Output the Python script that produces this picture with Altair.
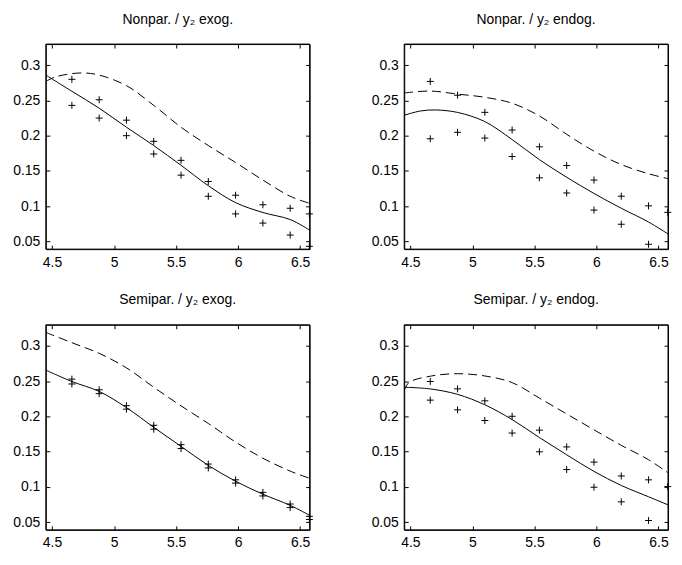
import altair as alt
import pandas as pd

# ---------------- data ----------------
TITLES = ["Nonpar. / y₂ exog.", "Nonpar. / y₂ endog.",
          "Semipar. / y₂ exog.", "Semipar. / y₂ endog."]
X_TICKS = [4.5, 5, 5.5, 6, 6.5]
Y_TICKS = [0.05, 0.1, 0.15, 0.2, 0.25, 0.3]
X_DOMAIN = [4.45, 6.577]
Y_DOMAIN = [0.039, 0.33]

PX = [4.66, 4.88, 5.10, 5.32, 5.54, 5.76, 5.98, 6.20, 6.42, 6.575]

# panel 1: Nonpar. / y2 exog.
p1_upper = [0.280, 0.251, 0.222, 0.192, 0.165, 0.135, 0.1155, 0.102, 0.097, 0.089]
p1_lower = [0.243, 0.225, 0.200, 0.174, 0.144, 0.114, 0.089, 0.076, 0.059, 0.043]
p1_solid_x = [4.45, 4.66, 4.88, 5.10, 5.32, 5.54, 5.76, 5.98, 6.20, 6.42, 6.577]
p1_solid_y = [0.286, 0.263, 0.239, 0.212, 0.186, 0.158, 0.129, 0.105, 0.091, 0.081, 0.066]
p1_dash_x = [4.45, 4.52, 4.62, 4.75, 4.88, 5.10, 5.32, 5.54, 5.76, 5.98, 6.20, 6.42, 6.577]
p1_dash_y = [0.277, 0.283, 0.287, 0.289, 0.286, 0.271, 0.243, 0.212, 0.186, 0.162, 0.137, 0.114, 0.104]

# panel 2: Nonpar. / y2 endog.
p2_upper = [0.277, 0.2574, 0.2331, 0.208, 0.1842, 0.1576, 0.137, 0.1141, 0.1004, 0.0912]
p2_lower = [0.1956, 0.2048, 0.1966, 0.1704, 0.1402, 0.1187, 0.0944, 0.0743, 0.0459, None]
p2_solid_x = [4.45, 4.58, 4.70, 4.88, 5.10, 5.32, 5.54, 5.76, 5.98, 6.20, 6.42, 6.577]
p2_solid_y = [0.229, 0.235, 0.2365, 0.2330, 0.2200, 0.1945, 0.1660, 0.1410, 0.1180, 0.0970, 0.0775, 0.0605]
p2_dash_x = [4.45, 4.66, 4.88, 5.10, 5.32, 5.54, 5.76, 5.98, 6.20, 6.42, 6.577]
p2_dash_y = [0.2606, 0.2633, 0.2590, 0.2545, 0.246, 0.228, 0.202, 0.178, 0.159, 0.146, 0.139]

# panel 3: Semipar. / y2 exog.
p3_upper = [0.2529, 0.2378, 0.2153, 0.1874, 0.1599, 0.1324, 0.110, 0.0922, 0.0757, 0.0582]
p3_lower = [0.246, 0.2323, 0.2103, 0.1819, 0.1544, 0.1269, 0.1054, 0.0871, 0.0706, 0.0537]
p3_solid_x = [4.45, 4.66, 4.88, 5.10, 5.32, 5.54, 5.76, 5.98, 6.20, 6.42, 6.577]
p3_solid_y = [0.2657, 0.2495, 0.2355, 0.2125, 0.1845, 0.1575, 0.1305, 0.1080, 0.0896, 0.0738, 0.0596]
p3_dash_x = [4.45, 4.66, 4.88, 5.10, 5.32, 5.54, 5.76, 5.98, 6.20, 6.42, 6.577]
p3_dash_y = [0.3192, 0.3046, 0.2895, 0.2689, 0.2414, 0.2150, 0.1900, 0.1636, 0.1407, 0.1224, 0.1122]

# panel 4: Semipar. / y2 endog.
p4_upper = [0.2496, 0.2391, 0.2221, 0.2002, 0.1805, 0.1567, 0.1352, 0.1155, 0.110, 0.1004]
p4_lower = [0.2231, 0.2093, 0.1942, 0.1764, 0.1498, 0.1246, 0.0995, 0.0788, 0.0523, None]
p4_solid_x = [4.45, 4.66, 4.88, 5.10, 5.32, 5.54, 5.76, 5.98, 6.20, 6.42, 6.577]
p4_solid_y = [0.2414, 0.2390, 0.2313, 0.2165, 0.1955, 0.1700, 0.1455, 0.1220, 0.1020, 0.0860, 0.0745]
p4_dash_x = [4.45, 4.49, 4.67, 4.88, 5.10, 5.32, 5.54, 5.76, 5.98, 6.20, 6.42, 6.577]
p4_dash_y = [0.2368, 0.2483, 0.2574, 0.2606, 0.2574, 0.2480, 0.2260, 0.2035, 0.1810, 0.1590, 0.1385, 0.120]

PANELS = [
    (p1_upper, p1_lower, p1_solid_x, p1_solid_y, p1_dash_x, p1_dash_y),
    (p2_upper, p2_lower, p2_solid_x, p2_solid_y, p2_dash_x, p2_dash_y),
    (p3_upper, p3_lower, p3_solid_x, p3_solid_y, p3_dash_x, p3_dash_y),
    (p4_upper, p4_lower, p4_solid_x, p4_solid_y, p4_dash_x, p4_dash_y),
]

FONT = "Liberation Sans"
PLUS = "M-1,0H1M0,-1V1"
W, H = 265, 206
TK = 4

xs = alt.Scale(domain=X_DOMAIN, nice=False, zero=False)
ys = alt.Scale(domain=Y_DOMAIN, nice=False, zero=False)

# the axes box (full extent of both scale domains)
box_df = pd.DataFrame({"x": [X_DOMAIN[0]], "x2": [X_DOMAIN[1]],
                       "y": [Y_DOMAIN[0]], "y2": [Y_DOMAIN[1]]})


def main_axis(orient, fmt, vals, pad, span):
    # labels outside; grid lines dashed so only short inward ticks remain at
    # both opposite borders (MATLAB style)
    return alt.Axis(orient=orient, values=vals, format=fmt, ticks=False,
                    domain=False,
                    grid=True, gridColor="black", gridWidth=1, gridOpacity=1,
                    gridDash=[TK, span - 2 * TK, TK],
                    title=None, labelPadding=pad, labelFont=FONT, labelFontSize=14,
                    labelColor="black", labelFlush=False, labelOverlap=False)


def panel(title, upper, lower, sx, sy, dx, dy):
    pts = pd.DataFrame({"x": PX * 2, "y": list(upper) + list(lower)}).dropna()
    solid = pd.DataFrame({"x": sx, "y": sy})
    dash = pd.DataFrame({"x": dx, "y": dy})

    b = alt.Chart(box_df).mark_rect(filled=False, stroke="black", strokeWidth=1,
                                    fillOpacity=0).encode(
        x=alt.X("x:Q", scale=xs, axis=main_axis("bottom", ".1~f", X_TICKS, 6, H)),
        x2="x2:Q",
        y=alt.Y("y:Q", scale=ys, axis=main_axis("left", ".2~f", Y_TICKS, 6, W)),
        y2="y2:Q",
    )
    p = alt.Chart(pts).mark_point(shape=PLUS, size=49, filled=False, color="black",
                                  strokeWidth=1, opacity=1, clip=False).encode(
        x=alt.X("x:Q", scale=xs),
        y=alt.Y("y:Q", scale=ys),
    )
    s = alt.Chart(solid).mark_line(color="black", strokeWidth=1, interpolate="catmull-rom",
                                   clip=True).encode(
        x=alt.X("x:Q", scale=xs),
        y=alt.Y("y:Q", scale=ys),
    )
    d = alt.Chart(dash).mark_line(color="black", strokeWidth=1, interpolate="catmull-rom",
                                  strokeDash=[9, 5], clip=True).encode(
        x=alt.X("x:Q", scale=xs),
        y=alt.Y("y:Q", scale=ys),
    )
    return alt.layer(b, p, s, d).properties(
        width=W, height=H,
        title=alt.TitleParams(title, font=FONT, fontSize=14, fontWeight="normal",
                              color="black", anchor="middle", offset=17),
    )


charts = [panel(t, *d) for t, d in zip(TITLES, PANELS)]

chart = alt.concat(*charts, columns=2, spacing={"row": 76, "column": 95},
                   bounds="flush").properties(
    padding={"left": 4, "top": 3, "right": 0, "bottom": 0}
).configure(background="white").configure_view(stroke="black", strokeWidth=1)

chart.save("out.html", embed_options={"renderer": "svg", "actions": False})
